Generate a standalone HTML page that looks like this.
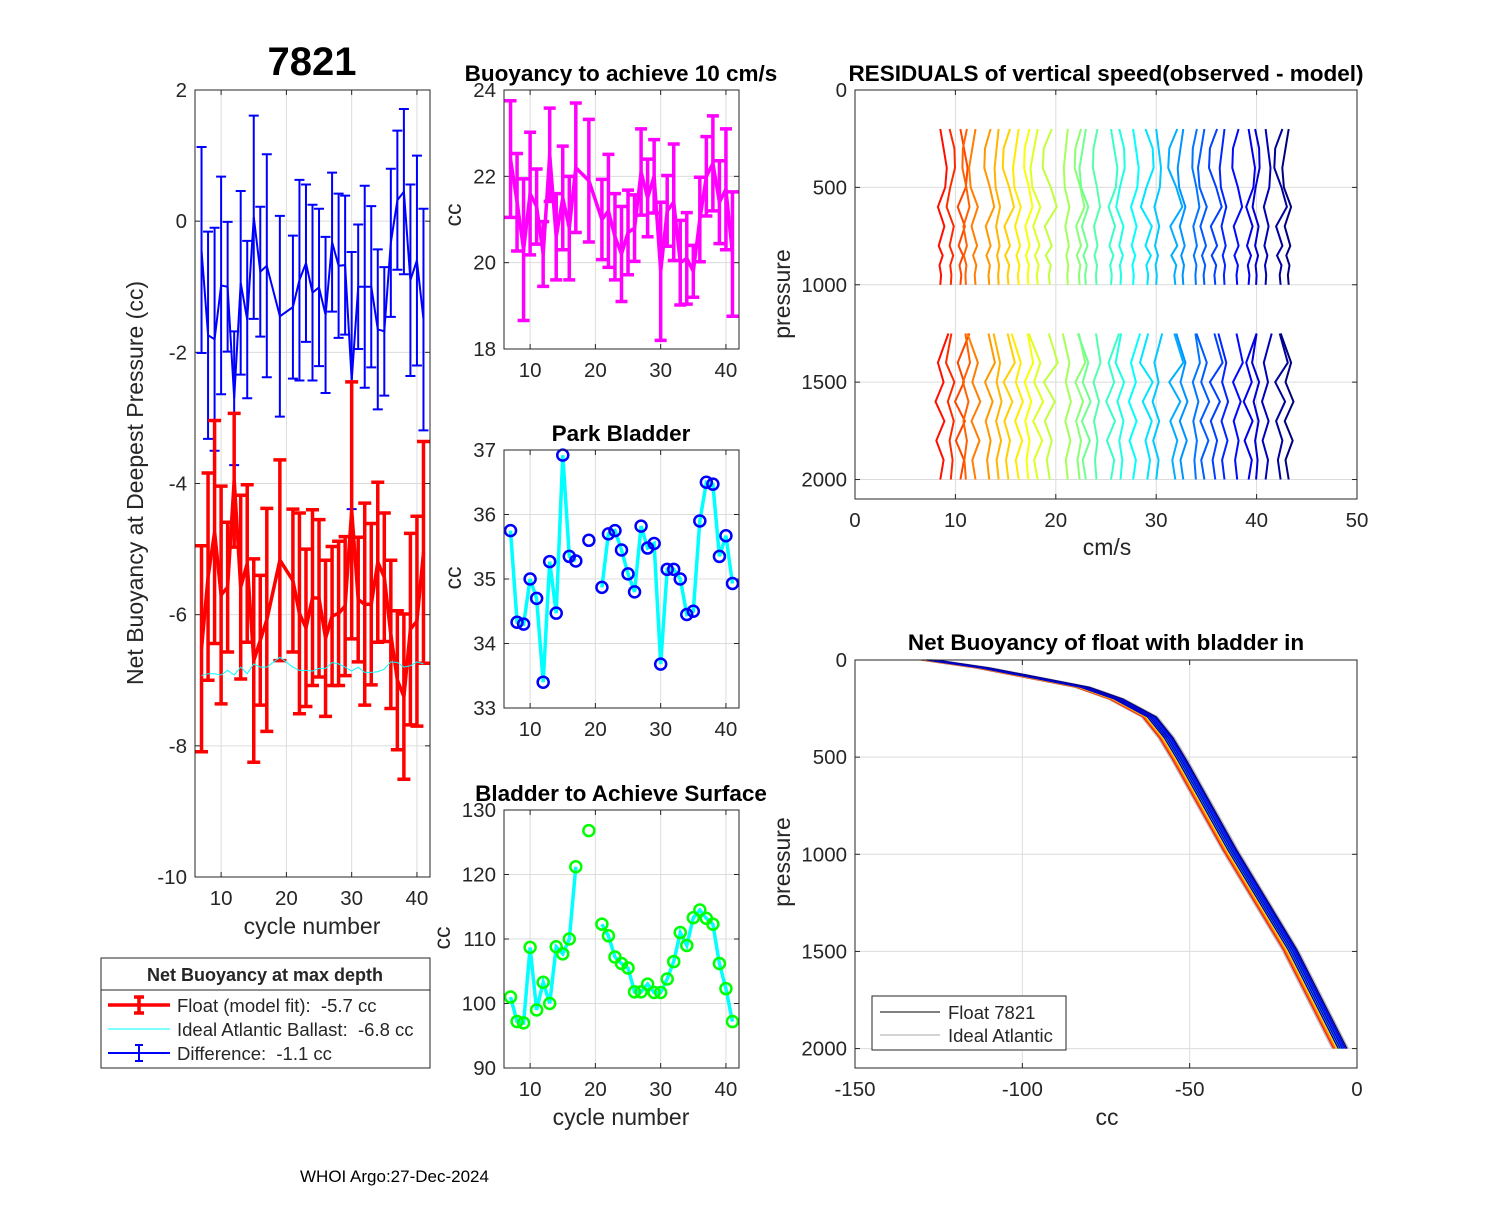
<!DOCTYPE html>
<html><head><meta charset="utf-8"><style>
body{margin:0;background:#fff}
svg text{font-family:"Liberation Sans",Arial,sans-serif;fill:#262626;white-space:pre}
.t{font-weight:bold;fill:#000}
</style></head><body>
<svg id="fig" width="1500" height="1200" viewBox="0 0 1500 1200" xmlns="http://www.w3.org/2000/svg">
<rect width="1500" height="1200" fill="#fff"/>
<g id="layer"></g>
<text class="t" x="312" y="75" font-size="40" text-anchor="middle">7821</text>
<text class="t" x="621" y="81" font-size="22.5" text-anchor="middle">Buoyancy to achieve 10 cm/s</text>
<text class="t" x="621" y="441" font-size="22.5" text-anchor="middle">Park Bladder</text>
<text class="t" x="621" y="801" font-size="22.5" text-anchor="middle">Bladder to Achieve Surface</text>
<text class="t" x="1106" y="81" font-size="22.5" text-anchor="middle">RESIDUALS of vertical speed(observed - model)</text>
<text class="t" x="1106" y="650" font-size="22.5" text-anchor="middle">Net Buoyancy of float with bladder in</text>
<text transform="translate(143,483) rotate(-90)" font-size="23" text-anchor="middle">Net Buoyancy at Deepest Pressure (cc)</text>
<text x="312" y="934" font-size="23" text-anchor="middle">cycle number</text>
<text transform="translate(461,215) rotate(-90)" font-size="23" text-anchor="middle">cc</text>
<text transform="translate(461,578) rotate(-90)" font-size="23" text-anchor="middle">cc</text>
<text transform="translate(450,938) rotate(-90)" font-size="23" text-anchor="middle">cc</text>
<text x="621" y="1125" font-size="23" text-anchor="middle">cycle number</text>
<text transform="translate(790,294) rotate(-90)" font-size="23" text-anchor="middle">pressure</text>
<text x="1107" y="555" font-size="23" text-anchor="middle">cm/s</text>
<text transform="translate(790,862) rotate(-90)" font-size="23" text-anchor="middle">pressure</text>
<text x="1107" y="1125" font-size="23" text-anchor="middle">cc</text>
<text x="300" y="1182" font-size="17" style="fill:#000">WHOI Argo:27-Dec-2024</text>
</svg>
<script>
const cycles=[7,8,9,10,11,12,13,14,15,16,17,19,21,22,23,24,25,26,27,28,29,30,31,32,33,34,35,36,37,38,39,40,41];
const floatFit=[-6.52,-5.42,-4.74,-5.7,-5.58,-3.95,-5.58,-5.22,-6.7,-6.39,-6.08,-5.17,-5.48,-5.98,-6.2,-5.74,-5.75,-6.36,-6.02,-5.98,-5.87,-4.41,-5.77,-5.84,-5.84,-5.2,-5.43,-6.3,-7.0,-7.25,-6.22,-6.1,-5.05];
const fitErr=[1.57,1.58,1.7,1.66,0.99,1.02,1.4,1.2,1.55,0.99,1.7,1.53,1.09,1.53,1.2,1.34,1.2,1.19,1.06,1.1,1.06,1.96,0.95,1.54,1.23,1.22,0.98,1.13,1.06,1.26,1.46,1.6,1.69];
const idealBallast=[-6.93,-6.9,-6.9,-6.92,-6.85,-6.92,-6.8,-6.9,-6.75,-6.8,-6.8,-6.65,-6.8,-6.85,-6.85,-6.86,-6.82,-6.82,-6.73,-6.75,-6.8,-6.86,-6.8,-6.88,-6.88,-6.87,-6.83,-6.72,-6.73,-6.8,-6.78,-6.72,-6.75];
const difference=[-0.44,-1.74,-1.8,-0.98,-1.0,-2.7,-0.94,-1.5,0.06,-0.77,-0.68,-1.45,-1.31,-0.9,-0.64,-1.09,-1.01,-1.43,-0.32,-0.68,-0.67,-2.43,-1.0,-1.0,-1.0,-1.65,-1.68,-0.33,0.32,0.45,-0.9,-0.6,-1.5];
const buoy10=[22.4,21.4,20.3,21.6,21.3,20.2,22.5,20.6,21.5,20.8,22.2,21.9,21.0,21.2,20.6,20.2,20.7,20.8,22.1,21.5,22.0,19.8,21.2,21.4,20.0,20.1,19.8,21.0,22.0,22.3,21.4,21.7,20.2];
const buoy10Err=[1.35,1.13,1.64,1.42,0.87,0.75,1.08,1.0,1.2,1.2,1.5,1.42,0.93,1.31,1.0,1.1,0.98,0.77,1.0,0.9,0.85,1.6,0.82,1.35,0.98,1.06,0.6,0.98,0.92,1.1,0.96,1.4,1.44];
const parkCycles=[7,8,9,10,11,12,13,14,15,16,17,18,19,20,21,22,23,24,25,26,27,28,29,30,31,32,33,34,35,36,37,38,39,40,41];
const parkBladder=[35.75,34.33,34.3,35.0,34.7,33.4,35.27,34.47,36.92,35.35,35.28,null,35.6,null,34.87,35.7,35.75,35.45,35.08,34.8,35.82,35.48,35.55,33.68,35.15,35.15,35.0,34.45,34.5,35.9,36.5,36.47,35.35,35.67,34.93];
const surfBladder=[101,97.2,97,108.7,99,103.3,100,108.8,107.7,110,121.2,null,126.8,null,112.3,110.5,107.2,106.2,105.5,101.8,101.8,103,101.7,101.7,103.8,106.5,111,109,113.3,114.5,113.2,112.3,106.2,102.3,97.2];
const resOffsets=[8.5,9.6,10.5,11.0,12.0,13.3,14.3,15.2,16.3,17.2,18.2,19.3,21.2,22.3,23.0,24.0,25.5,26.5,27.7,29.2,30.0,31.8,32.7,33.9,34.8,35.8,36.8,38.0,39.2,40.0,40.9,42.3,43.2];
const resAmp=[0.8,-0.6,0.9,0.5,-0.8,0.7,-0.5,0.8,-0.7,0.6,-0.9,1.0,-0.5,0.7,-0.8,0.5,0.8,-0.6,0.7,-0.9,0.6,1.0,-0.7,0.5,-0.8,0.9,-0.6,0.7,0.8,-0.5,0.6,0.9,-0.8];
const resTopP=[200,300,400,500,600,700,800,850,900,950,1000];
const resPatA=[0,0.4,0.8,0.6,-0.3,0.5,-0.2,0.3,-0.1,0.1,0];
const resPatB=[0.3,-0.5,-0.6,0.2,0.8,-0.4,0.3,-0.3,0.2,0,0.1];
const resBotP=[1250,1400,1500,1600,1700,1800,1900,2000];
const resPatC=[0,0.9,-0.5,0.6,-0.4,0.3,-0.2,0.1];
const resPatD=[1,-0.3,0.4,-0.6,0.5,-0.5,0.4,0];
const nbPress=[0,40,80,140,200,293,400,514,977,1491,2000];
const nbCC=[-128,-112,-100,-82,-72,-62,-57,-53,-38,-20,-5];
const nbOffsets=[-2,-1.6,-1.2,-0.9,-0.6,-0.3,0,0.3,0.6,0.9,1.2,1.6,2];

const NS="http://www.w3.org/2000/svg";
const L=document.getElementById('layer');
function mk(tag,attrs,parent){const e=document.createElementNS(NS,tag);for(const k in attrs)e.setAttribute(k,attrs[k]);(parent||L).appendChild(e);return e;}
function scale(d0,d1,r0,r1){return v=>r0+(v-d0)*(r1-r0)/(d1-d0);}
function axes(name,x0,y0,x1,y1,xs,ys,xt,yt,xlab,ylab){
  const g=mk('g',{});
  
  
  mk('rect',{x:x0,y:y0,width:x1-x0,height:y1-y0,fill:'#fff'},g);
  xt.forEach((v,i)=>{const x=xs(v);mk('line',{x1:x,x2:x,y1:y0,y2:y1,stroke:'#dcdcdc','stroke-width':1},g);
    mk('line',{x1:x,x2:x,y1:y1,y2:y1-5,stroke:'#262626','stroke-width':1},g);mk('line',{x1:x,x2:x,y1:y0,y2:y0+5,stroke:'#262626','stroke-width':1},g);
    const t=mk('text',{x:x,y:y1+28,'font-size':20.5,'text-anchor':'middle'},g);t.textContent=xlab[i];
    
    });
  yt.forEach((v,i)=>{const y=ys(v);mk('line',{x1:x0,x2:x1,y1:y,y2:y,stroke:'#dcdcdc','stroke-width':1},g);
    mk('line',{x1:x0,x2:x0+5,y1:y,y2:y,stroke:'#262626','stroke-width':1},g);mk('line',{x1:x1,x2:x1-5,y1:y,y2:y,stroke:'#262626','stroke-width':1},g);
    const t=mk('text',{x:x0-8,y:y+7,'font-size':20.5,'text-anchor':'end'},g);t.textContent=ylab[i];
    
    });
  return g;}
function frame(x0,y0,x1,y1){const r=mk('rect',{x:x0,y:y0,width:x1-x0,height:y1-y0,fill:'none',stroke:'#262626','stroke-width':1});
  
  }
function poly(xs,ys,X,Y,attrs,name){let d='',pen=false;X.forEach((x,i)=>{const y=Y[i];if(y===null||y===undefined){pen=false;return;}d+=(pen?'L':'M')+xs(x).toFixed(1)+','+ys(y).toFixed(1);pen=true;});
  const p=mk('path',Object.assign({d:d,fill:'none'},attrs));
  
  return p;}
function errbars(xs,ys,X,Y,E,color,w,cap,name){X.forEach((x,i)=>{const px=xs(x),a=ys(Y[i]+E[i]),b=ys(Y[i]-E[i]);
  const g=mk('path',{d:`M${px},${a}V${b}M${px-cap},${a}H${px+cap}M${px-cap},${b}H${px+cap}`,stroke:color,'stroke-width':w,fill:'none'});
  
  });}
function jet(t){const r=Math.min(Math.max(Math.min(4*t-1.5,-4*t+4.5),0),1),g=Math.min(Math.max(Math.min(4*t-0.5,-4*t+3.5),0),1),b=Math.min(Math.max(Math.min(4*t+0.5,-4*t+2.5),0),1);return `rgb(${Math.round(r*255)},${Math.round(g*255)},${Math.round(b*255)})`;}
const cyc=[10,20,30,40],cycL=['10','20','30','40'];

{const xs=scale(6,42,195,430),ys=scale(2,-10,90,877);const yt=[2,0,-2,-4,-6,-8,-10];
axes('net-buoyancy',195,90,430,877,xs,ys,cyc,yt,cycL,yt.map(String));
errbars(xs,ys,cycles,difference,fitErr,'#0000ff',2,5,'difference-errorbar');
poly(xs,ys,cycles,difference,{stroke:'#0000ff','stroke-width':2},'difference-line');
errbars(xs,ys,cycles,floatFit,fitErr,'#ff0000',3.5,6.5,'float-fit-errorbar');
poly(xs,ys,cycles,floatFit,{stroke:'#ff0000','stroke-width':3.5},'float-fit-line');
poly(xs,ys,cycles,idealBallast,{stroke:'#00ffff','stroke-width':1},'ideal-ballast-line');
frame(195,90,430,877);}
{const xs=scale(6,42,504,739),ys=scale(24,18,90,349);const yt=[24,22,20,18];
axes('buoyancy10',504,90,739,349,xs,ys,cyc,yt,cycL,yt.map(String));
errbars(xs,ys,cycles,buoy10,buoy10Err,'#ff00ff',3.5,6,'buoyancy10-errorbar');
poly(xs,ys,cycles,buoy10,{stroke:'#ff00ff','stroke-width':3.5},'buoyancy10-line');
frame(504,90,739,349);}
{const xs=scale(6,42,504,739),ys=scale(37,33,450,708);const yt=[37,36,35,34,33];
axes('park-bladder',504,450,739,708,xs,ys,cyc,yt,cycL,yt.map(String));
poly(xs,ys,parkCycles,parkBladder,{stroke:'#00ffff','stroke-width':3.5},'park-bladder-line');
parkCycles.forEach((c,i)=>{if(parkBladder[i]===null)return;const m=mk('circle',{cx:xs(c),cy:ys(parkBladder[i]),r:5.5,fill:'none',stroke:'#0000ff','stroke-width':2.5});

});
frame(504,450,739,708);}
{const xs=scale(6,42,504,739),ys=scale(130,90,810,1068);const yt=[130,120,110,100,90];
axes('surface-bladder',504,810,739,1068,xs,ys,cyc,yt,cycL,yt.map(String));
poly(xs,ys,parkCycles,surfBladder,{stroke:'#00ffff','stroke-width':3.5},'surface-bladder-line');
parkCycles.forEach((c,i)=>{if(surfBladder[i]===null)return;const m=mk('circle',{cx:xs(c),cy:ys(surfBladder[i]),r:5.5,fill:'none',stroke:'#00ff00','stroke-width':2.5});

});
frame(504,810,739,1068);}
{const xs=scale(0,50,855,1357),ys=scale(0,2100,90,499);const xt=[0,10,20,30,40,50],yt=[0,500,1000,1500,2000];
axes('residuals',855,90,1357,499,xs,ys,xt,yt,xt.map(String),yt.map(String));
resOffsets.forEach((o,i)=>{const col=jet(0.86-0.86*i/32);const a=resAmp[i];
 const pt=i%2?resPatB:resPatA,pb=i%2?resPatC:resPatD;
 poly(xs,ys,pt.map(v=>o+a*v),resTopP,{stroke:col,'stroke-width':2},'residual-profile-upper');
 poly(xs,ys,pb.map(v=>o+a*v),resBotP,{stroke:col,'stroke-width':2},'residual-profile-lower');});
frame(855,90,1357,499);}
{const xs=scale(-150,0,855,1357),ys=scale(0,2100,660,1068);const xt=[-150,-100,-50,0],yt=[0,500,1000,1500,2000];
axes('net-buoyancy-profile',855,660,1357,1068,xs,ys,xt,yt,xt.map(String),yt.map(String));
nbOffsets.forEach(o=>poly(xs,ys,nbCC.map(v=>v+o*1.2),nbPress,{stroke:'#bdbdbd','stroke-width':1.5},'ideal-atlantic-line'));
nbOffsets.forEach((o,i)=>poly(xs,ys,nbCC.map(v=>v+o),nbPress,{stroke:jet(0.85-0.85*i/(nbOffsets.length-1)),'stroke-width':1.2},'float-profile-line'));
[-0.6,0,0.6].forEach(o=>poly(xs,ys,nbCC.map(v=>v+o),nbPress,{stroke:'#0000c8','stroke-width':1.4},'float-profile-line'));
frame(855,660,1357,1068);
const lg=mk('g',{});


mk('rect',{x:872,y:996,width:194,height:54,fill:'#fff',stroke:'#262626','stroke-width':1},lg);
mk('line',{x1:880,x2:940,y1:1012,y2:1012,stroke:'#000','stroke-width':1},lg);
mk('line',{x1:880,x2:940,y1:1035,y2:1035,stroke:'#aaa','stroke-width':1},lg);
let t=mk('text',{x:948,y:1019,'font-size':18.5},lg);t.textContent='Float 7821';
t=mk('text',{x:948,y:1042,'font-size':18.5},lg);t.textContent='Ideal Atlantic';}
{const lg=mk('g',{});


mk('rect',{x:101,y:958,width:329,height:110,fill:'#fff',stroke:'#262626','stroke-width':1},lg);
mk('line',{x1:101,x2:430,y1:990,y2:990,stroke:'#262626','stroke-width':1},lg);
let t=mk('text',{x:265,y:981,'font-size':18,'text-anchor':'middle','font-weight':'bold',fill:'#000'},lg);t.textContent='Net Buoyancy at max depth';
mk('path',{d:'M108,1005H170M139,997V1013M134,997H144M134,1013H144',stroke:'#ff0000','stroke-width':3.5,fill:'none'},lg);
mk('line',{x1:108,x2:170,y1:1029,y2:1029,stroke:'#00ffff','stroke-width':1},lg);
mk('path',{d:'M108,1053H170M139,1045V1061M135,1045H143M135,1061H143',stroke:'#0000ff','stroke-width':2,fill:'none'},lg);
t=mk('text',{x:177,y:1012,'font-size':18.5},lg);t.textContent='Float (model fit):  -5.7 cc';
t=mk('text',{x:177,y:1036,'font-size':18.5},lg);t.textContent='Ideal Atlantic Ballast:  -6.8 cc';
t=mk('text',{x:177,y:1060,'font-size':18.5},lg);t.textContent='Difference:  -1.1 cc';}
</script>
</body></html>
